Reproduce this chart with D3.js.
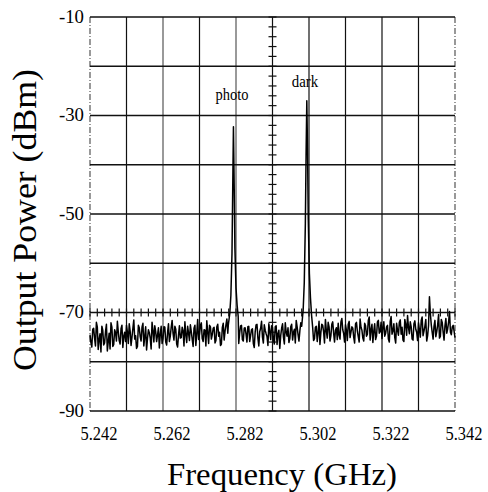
<!DOCTYPE html>
<html>
<head>
<meta charset="utf-8">
<script src="https://cdn.jsdelivr.net/npm/d3@7"></script>
<style>
  body { margin: 0; background: #fff; }
</style>
</head>
<body>
<div id="chart"></div>
<script>
var width = 488,
    height = 492;

// ---- data ----
var freqStart = 5.242,
    freqStep = 0.0005;

// noise floor sweep A, one value every 0.5 MHz from 5.242 GHz
var noise = [
  -74.5,-77.0,-73.2,-76.8,-72.9,-75.5,-78.0,-73.6,-76.2,-72.4,-75.9,-77.4,-73.0,-76.5,-74.1,-71.8,-75.7,-73.3,-77.1,-74.0,
  -72.6,-76.3,-73.8,-75.0,-71.5,-74.7,-76.9,-73.1,-75.8,-72.2,-74.9,-77.6,-73.5,-75.2,-72.0,-76.0,-73.9,-74.6,-77.2,-72.8,
  -75.3,-73.0,-76.6,-72.3,-74.8,-71.6,-75.6,-73.4,-77.0,-72.7,-75.1,-73.7,-71.9,-76.1,-74.2,-72.5,-75.4,-73.2,-76.7,-71.4,
  -74.4,-72.1,-75.9,-73.6,-71.7,-76.3,-72.9,-74.5,-73.0,-75.7,-72.4,-74.0,-76.4,-72.2,-73.8,-71.3,-75.0,-72.7,-73.5,-74.6,
  -71.9,-73.4,-74.2,-72.6,-75.8,-73.1,-76.0,-72.8,-74.7,-73.3,-77.1,-72.5,-75.2,-73.9,-71.8,-76.2,-73.6,-74.9,-72.3,-75.5,
  -73.0,-76.4,-72.7,-74.3,-77.3,-73.2,-75.0,-72.1,-74.8,-76.1,-72.9,-75.6,-73.4,-71.6,-74.5,-73.7,-72.6,-74.0,-71.5,-73.2,
  -72.0,-74.6,-71.7,-75.3,-72.8,-74.1,-76.5,-72.4,-73.9,-71.4,-75.2,-72.9,-74.7,-71.9,-76.0,-73.1,-72.2,-75.4,-71.2,-74.3,
  -72.5,-75.7,-71.8,-74.0,-73.2,-76.2,-72.0,-74.9,-71.3,-73.6,-75.8,-72.7,-74.4,-70.9,-73.5,-76.1,-72.3,-74.8,-71.6,-73.9,
  -75.3,-71.9,-74.2,-72.6,-76.0,-70.8,-73.7,-75.1,-72.2,-74.6,-71.5,-73.0,-75.9,-72.4,-70.6,-74.3,-72.9,-75.6,-71.7,-74.0,
  -72.1,-75.0,-70.9,-73.8,-71.4,-74.7,-66.8,-72.5,-75.4,-71.6,-73.9,-70.4,-74.8,-72.0,-75.6,-71.2,-73.3,-69.8,-74.5,-72.6,-75.1
];
// noise floor sweep B, the in-between points (5.24225 GHz on)
var noiseB = [
  -76.1,-73.4,-75.2,-72.0,-77.5,-74.3,-72.8,-76.6,-73.9,-77.8,-74.2,-72.1,-76.9,-73.5,-75.8,-73.9,-76.4,-72.6,-74.8,-75.9,
  -74.0,-72.3,-76.7,-73.2,-75.4,-77.3,-72.6,-74.9,-73.0,-76.8,-72.9,-75.3,-74.1,-77.4,-73.6,-72.7,-75.9,-73.1,-74.4,-76.3,
  -72.9,-76.0,-74.1,-75.9,-73.0,-74.2,-72.8,-76.4,-74.6,-75.2,-73.0,-76.8,-74.5,-72.8,-75.7,-73.9,-76.9,-72.6,-74.3,-75.5,
  -72.7,-75.3,-73.5,-76.8,-74.0,-72.6,-75.4,-73.2,-76.2,-72.9,-74.8,-76.7,-73.1,-75.6,-72.5,-74.2,-73.1,-75.9,-71.9,-72.4,
  -74.6,-76.3,-72.7,-75.5,-73.2,-74.4,-72.9,-75.9,-73.5,-76.3,-74.0,-72.4,-76.8,-73.2,-75.0,-72.5,-74.3,-76.7,-73.8,-72.7,
  -75.4,-72.9,-76.5,-73.6,-74.7,-72.3,-76.4,-74.0,-73.1,-75.3,-72.4,-74.0,-76.2,-72.9,-75.8,-72.1,-75.0,-72.8,-74.7,-72.6,
  -74.8,-72.3,-75.7,-73.0,-75.9,-71.8,-74.1,-72.6,-76.2,-73.7,-72.0,-75.8,-72.4,-74.2,-73.6,-75.5,-74.6,-71.9,-73.5,-76.0,
  -73.6,-72.4,-75.1,-72.9,-75.0,-72.3,-73.8,-76.0,-73.0,-75.2,-72.2,-74.8,-71.6,-75.6,-72.4,-73.8,-75.5,-71.9,-74.2,-72.0,
  -72.9,-74.8,-72.9,-75.4,-71.8,-74.4,-72.3,-76.2,-73.6,-72.0,-74.4,-75.6,-71.4,-74.6,-73.0,-71.9,-75.4,-72.3,-73.4,-75.7,
  -73.5,-71.6,-74.7,-72.8,-75.8,-72.7,-70.2,-74.0,-72.8,-74.9,-72.5,-75.2,-71.4,-74.0,-72.7,-74.2,-71.9,-74.0,-72.9,-73.8
];

// peaks: [frequency GHz, dBm]
var photoPeak = [
  [5.2799,-72.5],[5.2803,-70.2],[5.2806,-66.5],[5.2809,-58],[5.2811,-45],[5.2813,-32.3],
  [5.2815,-44],[5.2817,-57],[5.2820,-65],[5.2823,-68.5],[5.2826,-70.8]
];
var darkPeak = [
  [5.3000,-72.8],[5.3004,-69.5],[5.3007,-64],[5.3010,-52],[5.3012,-38],[5.3014,-27],
  [5.3016,-37],[5.3018,-51],[5.3021,-62],[5.3024,-67],[5.3027,-70.5],[5.3030,-73]
];

var xTicks = [5.242, 5.262, 5.282, 5.302, 5.322, 5.342];
var yTicks = [-10, -30, -50, -70, -90];
var labels = [{text: "photo", f: 5.2809, db: -26.9}, {text: "dark", f: 5.3009, db: -24.2}];

// ---- build the trace ----
var trace = noise.map(function(v, i){ return [freqStart + i * freqStep, v]; })
  .concat(noiseB.map(function(v, i){ return [freqStart + (i + 0.5) * freqStep, v]; }));
[photoPeak, darkPeak].forEach(function(pk){
  var lo = pk[0][0] - 1e-6, hi = pk[pk.length - 1][0] + 1e-6;
  trace = trace.filter(function(d){ return d[0] < lo || d[0] > hi; }).concat(pk);
});
trace.sort(function(a, b){ return a[0] - b[0]; });

var x = d3.scaleLinear().domain([5.242, 5.342]).range([90, 455]);
var y = d3.scaleLinear().domain([-90, -10]).range([411, 17]);

var svg = d3.select("#chart").append("svg")
    .attr("width", width)
    .attr("height", height)
    .attr("font-family", "'Liberation Serif', 'Times New Roman', 'DejaVu Serif', serif");

// grid
var g = svg.append("g").attr("fill", "none");
g.selectAll(".vg")
  .data(d3.range(0, 11).map(function(k){ return 5.242 + k * 0.01; }))
  .enter().append("line")
    .attr("x1", function(d){ return x(d); })
    .attr("x2", function(d){ return x(d); })
    .attr("y1", y(-10)).attr("y2", y(-90))
    .style("stroke", function(d, i){ return (i === 0 || i === 2 || i === 4 || i === 10) ? "#555" : "#111"; })
    .style("stroke-dasharray", function(d, i){ return (i === 0 || i === 10) ? "6,2,1,2" : null; })
    .style("stroke-width", 1.2);
g.selectAll(".hg")
  .data(d3.range(-90, -9, 10))
  .enter().append("line")
    .attr("x1", x(5.242)).attr("x2", x(5.342))
    .attr("y1", function(d){ return y(d); })
    .attr("y2", function(d){ return y(d); })
    .style("stroke", "#111")
    .style("stroke-width", 1.3);

// minor ticks on the center line and on the -70 line
var minorY = d3.range(-90, -9.9, 2);
g.selectAll(".my").data(minorY).enter().append("line")
    .attr("x1", x(5.292) - 4).attr("x2", x(5.292) + 4)
    .attr("y1", function(d){ return y(d); })
    .attr("y2", function(d){ return y(d); })
    .style("stroke", "#111").style("stroke-width", 1.2);
var minorX = d3.range(0, 51).map(function(k){ return 5.242 + k * 0.002; });
g.selectAll(".mx").data(minorX).enter().append("line")
    .attr("x1", function(d){ return x(d); })
    .attr("x2", function(d){ return x(d); })
    .attr("y1", y(-70) - 4).attr("y2", y(-70) + 4)
    .style("stroke", "#111").style("stroke-width", 1.2);

// trace
var line = d3.line()
    .x(function(d){ return x(d[0]); })
    .y(function(d){ return y(d[1]); });
svg.append("path")
    .datum(trace)
    .attr("d", line)
    .style("fill", "none")
    .style("stroke", "#000")
    .style("stroke-width", 1.5)
    .style("stroke-linejoin", "round");

// tick labels
svg.selectAll(".yl").data(yTicks).enter().append("text")
    .attr("x", 84)
    .attr("y", function(d){ return y(d); })
    .attr("dy", "0.3em")
    .attr("text-anchor", "end")
    .style("font-size", "19px")
    .attr("textLength", 25)
    .attr("lengthAdjust", "spacingAndGlyphs")
    .text(function(d){ return d; });
svg.selectAll(".xl").data(xTicks).enter().append("text")
    .attr("x", function(d){ return x(d) + 9; })
    .attr("y", 440)
    .attr("text-anchor", "middle")
    .style("font-size", "19px")
    .attr("textLength", 37)
    .attr("lengthAdjust", "spacingAndGlyphs")
    .text(function(d){ return d3.format(".3f")(d); });

// peak labels
svg.selectAll(".pl").data(labels).enter().append("text")
    .attr("x", function(d){ return x(d.f); })
    .attr("y", function(d){ return y(d.db); })
    .attr("text-anchor", "middle")
    .style("font-size", "17px")
    .attr("textLength", function(d){ return d.text.length * 6.6; })
    .attr("lengthAdjust", "spacingAndGlyphs")
    .text(function(d){ return d.text; });

// axis titles
svg.append("text")
    .attr("transform", "translate(36,220) rotate(-90)")
    .attr("text-anchor", "middle")
    .style("font-size", "33px")
    .attr("textLength", 302)
    .attr("lengthAdjust", "spacingAndGlyphs")
    .text("Output Power (dBm)");
svg.append("text")
    .attr("x", 282)
    .attr("y", 485)
    .attr("text-anchor", "middle")
    .style("font-size", "32px")
    .attr("textLength", 230)
    .attr("lengthAdjust", "spacingAndGlyphs")
    .text("Frequency (GHz)");
</script>
</body>
</html>
